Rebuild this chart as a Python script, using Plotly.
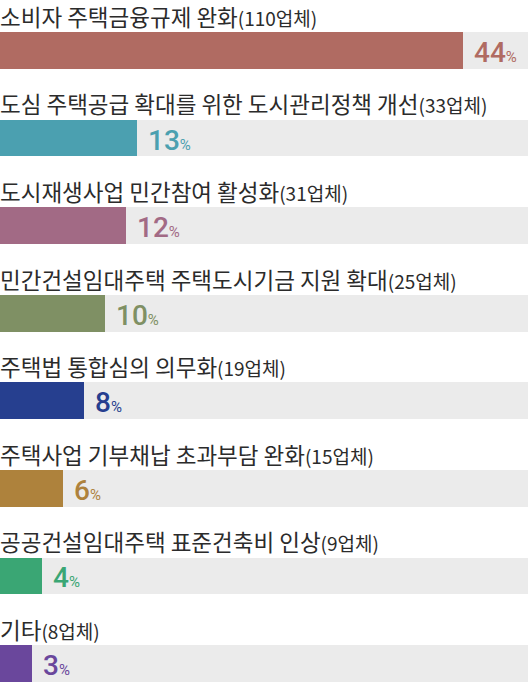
import plotly.graph_objects as go

# policy items, firm counts and share (%)
items = [
    "소비자 주택금융규제 완화",
    "도심 주택공급 확대를 위한 도시관리정책 개선",
    "도시재생사업 민간참여 활성화",
    "민간건설임대주택 주택도시기금 지원 확대",
    "주택법 통합심의 의무화",
    "주택사업 기부채납 초과부담 완화",
    "공공건설임대주택 표준건축비 인상",
    "기타",
]
firms = [110, 33, 31, 25, 19, 15, 9, 8]
shares = [44, 13, 12, 10, 8, 6, 4, 3]
colors = ["#b06b62", "#4ba0b0", "#a26a85", "#7f9064",
          "#263f8f", "#ae823c", "#3aa674", "#6a479c"]

x_max = 50.2
track_color = "#ebebeb"
pos = list(range(len(items)))

fig = go.Figure()

# full-width grey track behind each bar
fig.add_trace(go.Bar(
    x=[x_max] * len(items), y=pos, orientation="h",
    marker=dict(color=track_color, line=dict(width=0)),
    width=0.42, hoverinfo="skip", showlegend=False,
))
fig.add_trace(go.Bar(
    x=shares, y=pos, orientation="h",
    marker=dict(color=colors, line=dict(width=0)),
    width=0.42, showlegend=False,
))

annotations = []
for i, (name, n, s, c) in enumerate(zip(items, firms, shares, colors)):
    annotations.append(dict(
        x=0, y=i - 0.43, xref="x", yref="y", xshift=-1, yshift=-3,
        xanchor="left", yanchor="middle", showarrow=False, borderpad=0,
        text=name + "<span style='font-size:19px'>(" + str(n) + "업체)</span>",
        font=dict(family="Noto Sans CJK KR", size=22.5, color="#2b2b2b"),
    ))
    annotations.append(dict(
        x=s, y=i, xref="x", yref="y", xshift=10, yshift=-2,
        xanchor="left", yanchor="middle", showarrow=False, borderpad=0,
        text=str(s) + "<span style='font-size:15px;font-weight:400'>%</span>",
        font=dict(family="Roboto", size=28, color=c, weight=500),
    ))

fig.update_layout(
    width=528, height=685,
    margin=dict(l=0, r=0, t=0, b=0),
    paper_bgcolor="white", plot_bgcolor="white",
    barmode="overlay", bargap=0,
    xaxis=dict(range=[0, x_max], visible=False, fixedrange=True),
    yaxis=dict(range=[7.246, -0.577], visible=False, fixedrange=True),
    annotations=annotations,
)

fig.write_html("out.html", config={"displayModeBar": False},
               post_script="document.body.style.margin='0';")
